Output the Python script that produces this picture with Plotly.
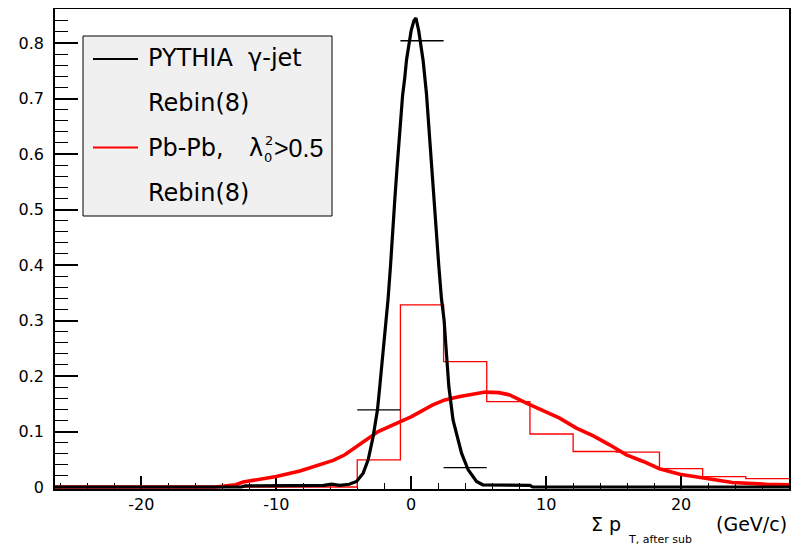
import plotly.graph_objects as go

# ---------------- data ----------------
# rebinned Pb-Pb histogram (thin red), bin edges and contents
red_edges = [-26.4, -23.2, -20.0, -16.8, -13.6, -10.4, -7.2, -4.0, -0.8, 2.4,
             5.6, 8.8, 12.0, 15.2, 18.4, 21.6, 24.8, 28.0]
red_rebin = [0, 0, 0, 0, 0, 0, 0, 0.049, 0.328, 0.226, 0.154, 0.0955,
             0.064, 0.063, 0.033, 0.0186, 0.015]

# fine Pb-Pb distribution (thick red)
red_x = [-26.4, -14.5, -13.0, -12.45, -10.0, -8.25, -5.78, -4.92, -2.45, -0.84,
         0.02, 1.6, 2.49, 3.6, 4.6, 5.5, 6.5, 7.3, 8.54, 9.77, 11.0, 12.24,
         13.5, 14.7, 15.95, 17.2, 18.4, 19.9, 21.4, 22.6, 23.8, 26.3, 28.0]
red_y = [0, 0, 0.004, 0.009, 0.019, 0.029, 0.048, 0.058, 0.100, 0.117,
         0.127, 0.148, 0.157, 0.163, 0.168, 0.171, 0.170, 0.166, 0.151, 0.137,
         0.124, 0.106, 0.092, 0.076, 0.058, 0.046, 0.033, 0.023, 0.017, 0.012,
         0.008, 0.005, 0.004]

# fine PYTHIA gamma-jet distribution (thick black)
black_x = [-26.4, -12.6, -12.3, -8.0, -6.5, -5.9, -5.3, -4.6, -4.05, -3.56,
           -3.19, -2.82, -2.5, -2.33, -2.08, -1.83, -1.71, -1.53, -1.39, -1.21,
           -1.05, -0.9, -0.77, -0.64, -0.47, -0.35, -0.15, 0.0, 0.2, 0.35,
           0.55, 0.7, 0.88, 1.13, 1.3, 1.5, 1.7, 1.87, 2.04, 2.24,
           2.44, 2.61, 2.79, 3.1, 3.4, 3.73, 4.22, 4.84, 5.3, 8.8, 9.0, 28.0]
black_y = [0, 0, 0.002, 0.002, 0.003, 0.005, 0.003, 0.005, 0.010, 0.025,
           0.049, 0.091, 0.139, 0.181, 0.241, 0.300, 0.340, 0.400, 0.460, 0.520,
           0.575, 0.630, 0.672, 0.705, 0.739, 0.769, 0.800, 0.823, 0.840, 0.845,
           0.823, 0.800, 0.769, 0.709, 0.649, 0.590, 0.520, 0.460, 0.400, 0.340,
           0.300, 0.241, 0.181, 0.121, 0.090, 0.061, 0.031, 0.010, 0.004, 0.003, 0, 0]

# rebinned PYTHIA points (black, horizontal error bars)
black_rebin_x = [-2.4, 0.8, 4.0]
black_rebin_y = [0.139, 0.804, 0.035]
black_rebin_halfwidth = [1.6, 1.6, 1.6]

x_tickvals = [-20, -10, 0, 10, 20]
x_ticktext = ["-20", "-10", "0", "10", "20"]

legend_labels = ["PYTHIA\u00a0\u00a0γ-jet", "Rebin(8)", "Pb-Pb,", "Rebin(8)"]

# ---------------- layout geometry ----------------
# page is 803x550; the html body has an 8 px margin, so the figure is drawn
# 8 px smaller and all page positions are shifted by 8 px.
OFF = 8
PAGE_W, PAGE_H = 803, 550
W, H = PAGE_W - OFF, PAGE_H - OFF
PL, PR, PT, PB = 55, 789, 9, 489   # plot area in page pixels
Y0_PIX, PIX_PER_UNIT = 487, 555.0
FONT = "DejaVu Sans"
FONT2 = "Liberation Sans"


def px(xp):
    return (xp - PL) / (PR - PL)


def py(yp):
    return (PB - yp) / (PB - PT)


fig = go.Figure()

fig.add_trace(go.Scatter(
    x=red_edges, y=red_rebin + [red_rebin[-1]], mode="lines",
    line=dict(color="#ff0000", width=1.3, shape="hv"), showlegend=False))
fig.add_trace(go.Scatter(
    x=red_x, y=red_y, mode="lines",
    line=dict(color="#ff0000", width=3.6), showlegend=False))
fig.add_trace(go.Scatter(
    x=black_x, y=black_y, mode="lines",
    line=dict(color="black", width=3.2), showlegend=False))
fig.add_trace(go.Scatter(
    x=black_rebin_x, y=black_rebin_y, mode="markers",
    marker=dict(color="black", size=1),
    error_x=dict(type="data", array=black_rebin_halfwidth, symmetric=True,
                 width=0, thickness=1.4, color="black"),
    showlegend=False))

# ---------------- manual legend ----------------
shapes = [dict(type="rect", xref="paper", yref="paper",
               x0=px(83), x1=px(332), y0=py(216), y1=py(36),
               fillcolor="#f0f0f0", line=dict(color="black", width=1), layer="above")]
shapes.append(dict(type="line", xref="paper", yref="paper", x0=px(93), x1=px(138),
                   y0=py(59), y1=py(59), line=dict(color="black", width=2), layer="above"))
shapes.append(dict(type="line", xref="paper", yref="paper", x0=px(93), x1=px(138),
                   y0=py(147.5), y1=py(147.5), line=dict(color="#ff0000", width=2), layer="above"))

row_y = [58, 102.5, 147.5, 192.5]
annotations = []
for lab, yy in zip(legend_labels, row_y):
    annotations.append(dict(text=lab, xref="paper", yref="paper", x=px(146), y=py(yy),
                            xanchor="left", yanchor="middle", showarrow=False,
                            font=dict(family=FONT, size=24, color="black")))
annotations += [
    dict(text="λ", xref="paper", yref="paper", x=px(247), y=py(147.5),
         xanchor="left", yanchor="middle", showarrow=False,
         font=dict(family=FONT, size=24, color="black")),
    dict(text="2", xref="paper", yref="paper", x=px(263), y=py(140),
         xanchor="left", yanchor="middle", showarrow=False,
         font=dict(family=FONT, size=13, color="black")),
    dict(text="0", xref="paper", yref="paper", x=px(262), y=py(157),
         xanchor="left", yanchor="middle", showarrow=False,
         font=dict(family=FONT, size=13, color="black")),
    dict(text=">0.5", xref="paper", yref="paper", x=px(272), y=py(147.5),
         xanchor="left", yanchor="middle", showarrow=False,
         font=dict(family=FONT2, size=25, color="black")),
]

# ---------------- x axis title ----------------
annotations += [
    dict(text="Σ p", xref="paper", yref="paper", x=px(589), y=py(524),
         xanchor="left", yanchor="middle", showarrow=False,
         font=dict(family=FONT, size=19, color="black")),
    dict(text="T, after sub", xref="paper", yref="paper", x=px(626), y=py(539),
         xanchor="left", yanchor="middle", showarrow=False,
         font=dict(family=FONT, size=11, color="black")),
    dict(text="(GeV/c)", xref="paper", yref="paper", x=px(789), y=py(524),
         xanchor="right", yanchor="middle", showarrow=False,
         font=dict(family=FONT, size=19, color="black")),
]

fig.update_layout(
    width=W, height=H,
    margin=dict(l=PL - OFF, r=PAGE_W - PR, t=PT - OFF, b=PAGE_H - PB, pad=0,
                autoexpand=False),
    paper_bgcolor="white", plot_bgcolor="white",
    shapes=shapes, annotations=annotations,
    font=dict(family=FONT, size=16, color="black"),
    showlegend=False,
)
fig.update_xaxes(
    range=[-26.4, 28.0], showgrid=False, zeroline=False,
    showline=True, linecolor="black", linewidth=1.5, mirror=True,
    tickmode="array", tickvals=x_tickvals, ticktext=x_ticktext,
    ticks="inside", ticklen=13, tickwidth=1.5, tickcolor="black",
    tickfont=dict(family=FONT, size=16, color="black"),
    minor=dict(ticks="inside", ticklen=6, tickwidth=1.2, tickcolor="black",
               tickmode="linear", tick0=0, dtick=2, showgrid=False),
    layer="below traces",
)
fig.update_yaxes(
    range=[(Y0_PIX - PB) / PIX_PER_UNIT, (Y0_PIX - PT) / PIX_PER_UNIT],
    showgrid=False, zeroline=False,
    showline=True, linecolor="black", linewidth=1.5, mirror=True,
    tickmode="linear", tick0=0, dtick=0.1,
    ticks="inside", ticklen=23, tickwidth=1.5, tickcolor="black",
    tickfont=dict(family=FONT, size=16, color="black"),
    ticklabelstandoff=6,
    minor=dict(ticks="inside", ticklen=13, tickwidth=1.2, tickcolor="black",
               tickmode="linear", tick0=0, dtick=0.02, showgrid=False),
    layer="below traces",
)

fig.write_html("out.html")
